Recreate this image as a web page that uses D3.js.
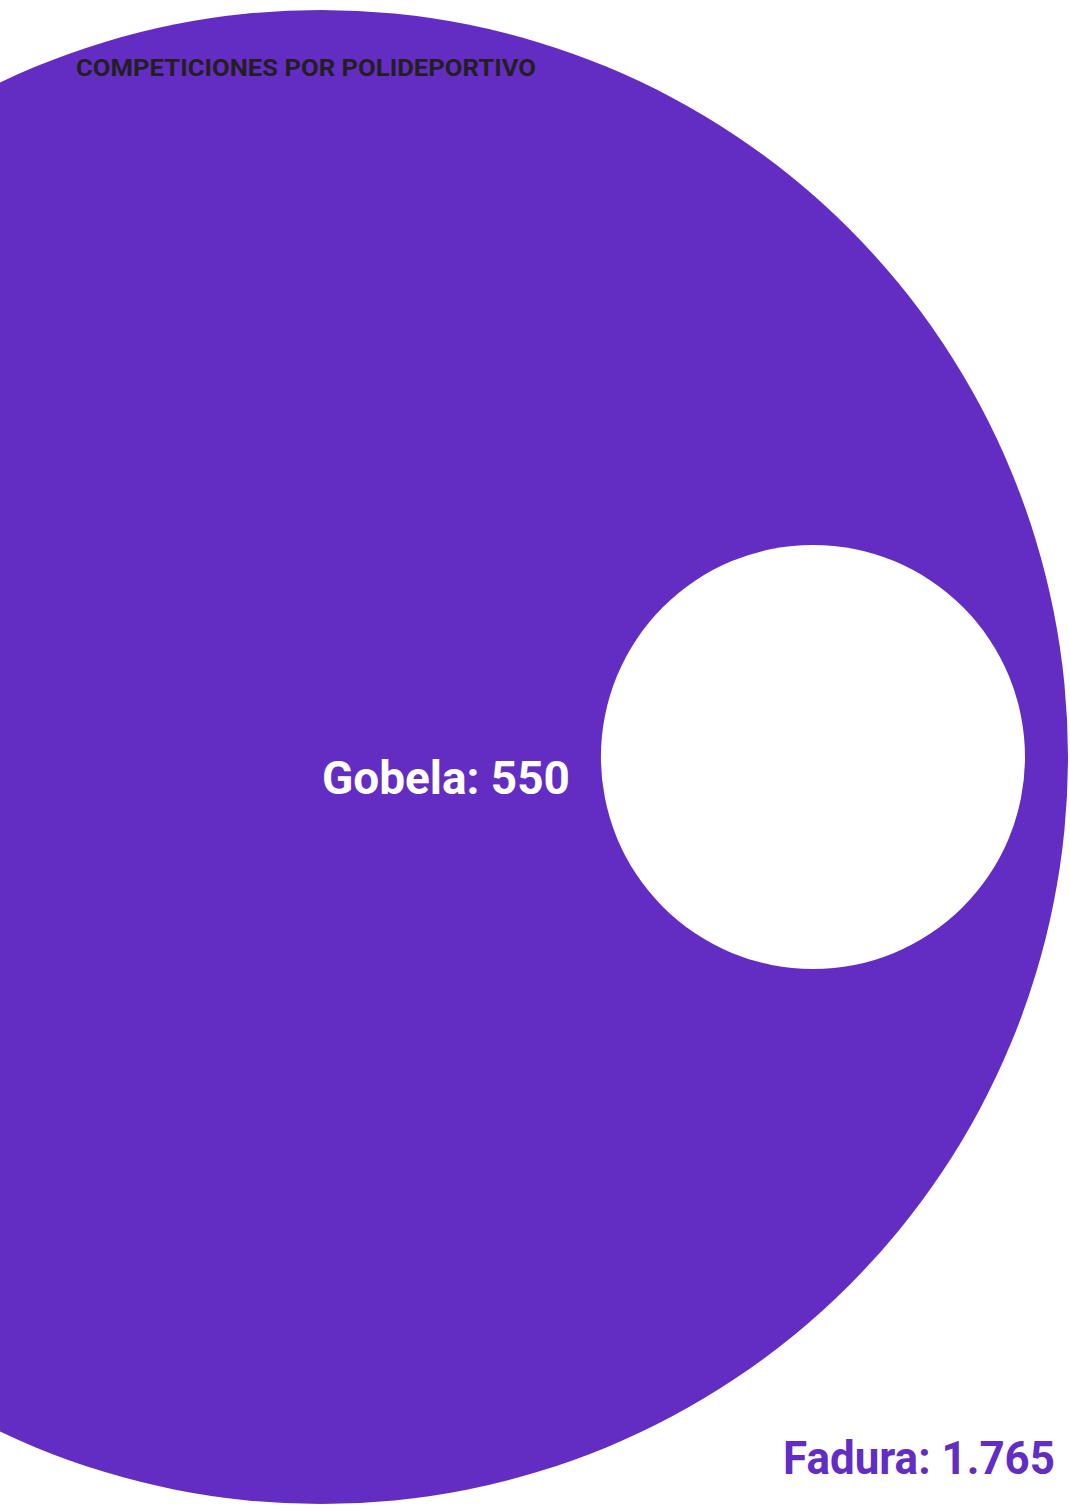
<html>
<head>
    <script src="https://cdn.jsdelivr.net/npm/d3@7" charset="utf-8"></script>
    <style>
        body { margin: 0; background: #fff; }
        text { font-family: "Liberation Sans Narrow", "Roboto", "Liberation Sans", sans-serif; font-weight: bold; }
    </style>
</head>

<body>
    <script type="text/javascript">
        // Data
        var names = ["Fadura", "Gobela"];
        var values = [1765, 550];
        var valueLabels = ["1.765", "550"];
        var title = "COMPETICIONES POR POLIDEPORTIVO";

        var width = 1070;
        var height = 1505;
        var purple = "#632dc3";

        var svg = d3.select("body").append("svg")
            .attr("width", width)
            .attr("height", height);

        // Radius scale (fitted to the original's proportions)
        var rScale = d3.scalePow()
            .exponent(1.08)
            .domain([0, d3.max(values)])
            .range([0, 747]);

        var bigR = rScale(values[0]);
        var smallR = rScale(values[1]);
        var cx = 321, cy = 757;

        var circles = [
            { name: names[0], r: bigR, x: cx, fill: purple },
            { name: names[1], r: smallR, x: cx + bigR - smallR - 43, fill: "#ffffff" }
        ];

        svg.append("g")
            .selectAll("circle")
            .data(circles)
            .join("circle")
                .attr("cx", d => d.x)
                .attr("cy", cy)
                .attr("r", d => d.r)
                .attr("fill", d => d.fill);

        // Title
        svg.append("text")
            .attr("x", 76)
            .attr("y", 76)
            .attr("fill", "#231f20")
            .style("font-size", "24px")
            .attr("textLength", 460)
            .attr("lengthAdjust", "spacingAndGlyphs")
            .text(title);

        // Gobela label, to the left of the small circle
        svg.append("text")
            .attr("x", circles[1].x - smallR - 31)
            .attr("y", 794)
            .attr("text-anchor", "end")
            .attr("fill", "#ffffff")
            .style("font-size", "47px")
            .attr("textLength", 248)
            .attr("lengthAdjust", "spacingAndGlyphs")
            .text(names[1] + ": " + valueLabels[1]);

        // Fadura label, bottom right
        svg.append("text")
            .attr("x", 1055)
            .attr("y", 1474)
            .attr("text-anchor", "end")
            .attr("fill", purple)
            .style("font-size", "47px")
            .attr("textLength", 272)
            .attr("lengthAdjust", "spacingAndGlyphs")
            .text(names[0] + ": " + valueLabels[0]);
    </script>
</body>

</html>
